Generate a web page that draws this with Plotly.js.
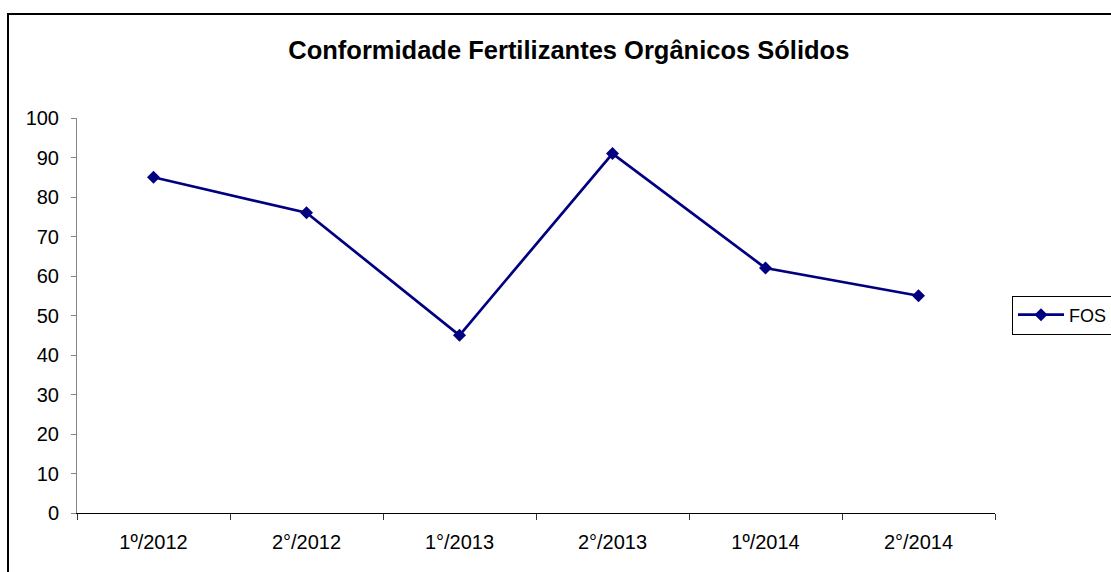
<!DOCTYPE html>
<html>
<head>
<meta charset="utf-8">
<script src="https://cdn.plot.ly/plotly-3.0.1.min.js"></script>
<style>
html,body{margin:0;padding:0;background:#fff;}
#chart{width:1111px;height:572px;}
</style>
</head>
<body>
<div id="chart"></div>
<script>
var categories = ["1º/2012", "2°/2012", "1°/2013", "2°/2013", "1º/2014", "2°/2014"];
var fosValues = [85, 76, 45, 91, 62, 55];
var yTickValues = [0, 10, 20, 30, 40, 50, 60, 70, 80, 90, 100];
var seriesName = "FOS";
var chartTitle = "Conformidade Fertilizantes Orgânicos Sólidos";

var fontFam = "Arial, 'Liberation Sans', sans-serif";

var trace = {
  x: categories,
  y: fosValues,
  name: seriesName,
  type: "scatter",
  mode: "lines+markers",
  line: {color: "#000080", width: 2.7},
  marker: {symbol: "diamond", size: 10, color: "#000080"}
};

var layout = {
  width: 1111,
  height: 572,
  margin: {l: 77, r: 116, t: 118, b: 59, autoexpand: false},
  paper_bgcolor: "#ffffff",
  plot_bgcolor: "#ffffff",
  showlegend: true,
  font: {family: fontFam, color: "#000000", size: 20},
  title: {
    text: "<b>" + chartTitle + "</b>",
    font: {family: fontFam, size: 25.5, color: "#000000"},
    xref: "container", x: 0.512, xanchor: "center",
    yref: "container", y: 0.912, yanchor: "middle"
  },
  xaxis: {
    type: "category",
    range: [-0.5, 5.5],
    showgrid: false,
    zeroline: false,
    showline: true,
    linecolor: "#000000",
    linewidth: 1,
    ticks: "outside",
    tickson: "boundaries",
    ticklen: 6,
    tickcolor: "#333333",
    tickfont: {family: fontFam, size: 20, color: "#000000"},
    ticklabelstandoff: 11,
    automargin: false,
    fixedrange: true
  },
  yaxis: {
    range: [0, 100],
    tickvals: yTickValues,
    showgrid: false,
    zeroline: false,
    showline: true,
    linecolor: "#868686",
    linewidth: 1,
    ticks: "outside",
    ticklen: 5,
    tickcolor: "#868686",
    tickfont: {family: fontFam, size: 20, color: "#000000"},
    ticklabelstandoff: 8,
    automargin: false,
    fixedrange: true
  },
  legend: {
    xref: "container", yref: "container",
    x: 1012 / 1111, xanchor: "left",
    y: 1 - 315 / 572, yanchor: "middle",
    bordercolor: "#000000",
    borderwidth: 1,
    bgcolor: "#ffffff",
    itemwidth: 46,
    font: {family: fontFam, size: 18, color: "#000000"}
  },
  shapes: [{
    type: "rect",
    xref: "paper", yref: "paper",
    x0: (8 - 77) / 918, x1: (1200 - 77) / 918,
    y0: (513 - 700) / 395, y1: (513 - 14) / 395,
    line: {color: "#000000", width: 2},
    fillcolor: "rgba(0,0,0,0)",
    layer: "above"
  }]
};

Plotly.newPlot("chart", [trace], layout, {displayModeBar: false, staticPlot: true});
</script>
</body>
</html>
